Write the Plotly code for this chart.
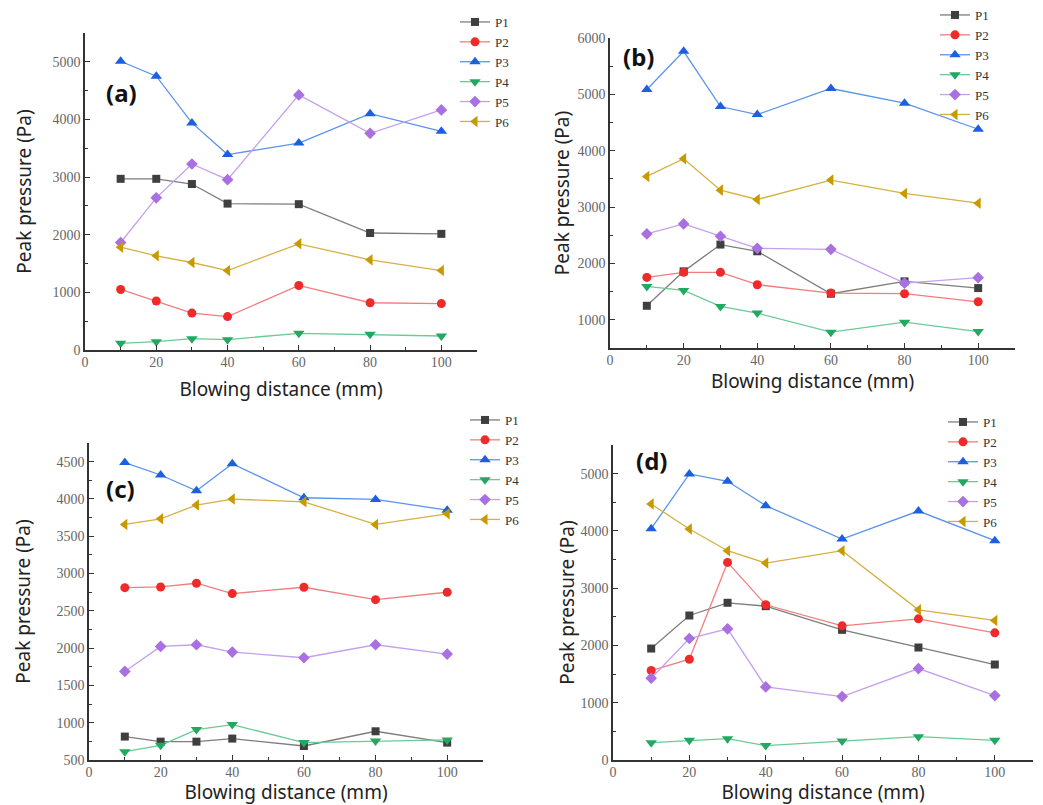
import plotly.graph_objects as go

# ---------------- data ----------------
distance = [10, 20, 30, 40, 60, 80, 100]
series_names = ["P1", "P2", "P3", "P4", "P5", "P6"]

a_P1 = [2970, 2970, 2880, 2540, 2530, 2030, 2015]
a_P2 = [1050, 850, 640, 580, 1120, 820, 805]
a_P3 = [5010, 4750, 3940, 3390, 3590, 4100, 3795]
a_P4 = [115, 145, 197, 180, 290, 272, 243]
a_P5 = [1865, 2640, 3227, 2955, 4426, 3760, 4166]
a_P6 = [1784, 1634, 1518, 1379, 1842, 1564, 1379]

b_P1 = [1249, 1860, 2335, 2216, 1463, 1682, 1563]
b_P2 = [1753, 1842, 1842, 1623, 1474, 1463, 1320]
b_P3 = [5087, 5763, 4784, 4642, 5104, 4843, 4381]
b_P4 = [1593, 1522, 1237, 1119, 781, 958, 792]
b_P5 = [2524, 2702, 2483, 2269, 2251, 1652, 1747]
b_P6 = [3544, 3859, 3301, 3135, 3479, 3242, 3070]

c_P1 = [814, 746, 746, 787, 688, 885, 733]
c_P2 = [2811, 2820, 2870, 2731, 2816, 2650, 2749]
c_P3 = [4487, 4321, 4110, 4473, 4016, 3994, 3850]
c_P4 = [612, 697, 908, 975, 733, 755, 769]
c_P5 = [1687, 2023, 2045, 1947, 1871, 2045, 1920]
c_P6 = [3658, 3734, 3918, 3998, 3962, 3658, 3801]

d_P1 = [1946, 2523, 2745, 2686, 2273, 1964, 1667]
d_P2 = [1562, 1760, 3450, 2710, 2343, 2465, 2220]
d_P3 = [4038, 4994, 4866, 4441, 3858, 4347, 3829]
d_P4 = [303, 344, 373, 251, 332, 408, 344]
d_P5 = [1428, 2121, 2290, 1276, 1107, 1597, 1125]
d_P6 = [4470, 4033, 3654, 3438, 3654, 2622, 2436]

panel_labels = ["(a)", "(b)", "(c)", "(d)"]
x_title = "Blowing distance (mm)"
y_title = "Peak pressure (Pa)"

# ---------------- styles ----------------
marker_colors = ["#3f3f3f", "#ee2a2a", "#1c5fe0", "#23a862", "#a870e0", "#c99a00"]
line_colors = ["#7d7d7d", "#f27d7d", "#5b93ec", "#6acb95", "#c5a0ef", "#d6b040"]
symbols = ["square", "circle", "triangle-up", "triangle-down", "diamond", "triangle-left"]
marker_sizes = [8, 9, 10, 10, 9, 10]

W, H = 1043, 805

def px_dom_x(x0, x1):
    return [x0 / W, x1 / W]

def px_dom_y(top, bottom):
    return [1 - bottom / H, 1 - top / H]

panels = [
    dict(data=[a_P1, a_P2, a_P3, a_P4, a_P5, a_P6], xd=(85, 477), yd=(33, 350),
         yr=[0, 5500], ydt=1000, legend=(455, 7), label=(121, 92), xstand=14, ystand=16),
    dict(data=[b_P1, b_P2, b_P3, b_P4, b_P5, b_P6], xd=(610, 1015), yd=(38, 348),
         yr=[500, 6000], ydt=1000, legend=(935, 0), label=(638, 57), xstand=7, ystand=3),
    dict(data=[c_P1, c_P2, c_P3, c_P4, c_P5, c_P6], xd=(89, 483), yd=(443, 760),
         yr=[500, 4750], ydt=500, legend=(465, 405), label=(120, 488), xstand=4, ystand=21),
    dict(data=[d_P1, d_P2, d_P3, d_P4, d_P5, d_P6], xd=(613, 1033), yd=(445, 760),
         yr=[0, 5500], ydt=1000, legend=(943, 407), label=(651, 460), xstand=4, ystand=0),
]

fig = go.Figure()
layout = dict(
    width=W, height=H, margin=dict(l=0, r=0, t=0, b=0, autoexpand=False),
    paper_bgcolor="white", plot_bgcolor="white",
    annotations=[],
)

tick_font = dict(family="Liberation Serif", size=14, color="#666666")
title_font = dict(family="Noto Sans", size=19, color="#222222")

for i, p in enumerate(panels):
    k = "" if i == 0 else str(i + 1)
    xa, ya = "x" + k, "y" + k
    leg = "legend" + k
    for j, name in enumerate(series_names):
        fig.add_trace(go.Scatter(
            x=distance, y=p["data"][j], name=name, mode="lines+markers",
            xaxis=xa, yaxis=ya, legend=leg,
            line=dict(color=line_colors[j], width=1.3),
            marker=dict(symbol=symbols[j], color=marker_colors[j], size=marker_sizes[j]),
            cliponaxis=False,
        ))
    common = dict(showline=True, linecolor="#333333", linewidth=1.5, showgrid=False,
                  zeroline=False, ticks="inside", ticklen=5, tickwidth=1.2,
                  tickcolor="#333333", tickfont=tick_font,
                  minor=dict(ticks="inside", ticklen=3, tickwidth=1.2, tickcolor="#333333"))
    layout["xaxis" + k] = dict(common, domain=px_dom_x(*p["xd"]), range=[0, 110],
                               dtick=20, tick0=0, anchor=ya, ticklabelstandoff=-2,
                               title=dict(text=x_title, font=title_font, standoff=p["xstand"]),
                               minor=dict(common["minor"], dtick=10))
    layout["yaxis" + k] = dict(common, domain=px_dom_y(*p["yd"]), range=p["yr"],
                               dtick=p["ydt"], tick0=0, anchor=xa,
                               title=dict(text=y_title, font=title_font, standoff=p["ystand"]),
                               minor=dict(common["minor"], dtick=p["ydt"] / 2))
    lx, ly = p["legend"]
    layout[leg] = dict(x=lx / W, y=1 - ly / H, xanchor="left", yanchor="top",
                       bgcolor="rgba(0,0,0,0)", borderwidth=0,
                       font=dict(family="Liberation Serif", size=13, color="#333333"),
                       itemwidth=30, tracegroupgap=0)
    cx, cy = p["label"]
    layout["annotations"].append(dict(
        text=panel_labels[i], x=cx / W, y=1 - cy / H, xref="paper", yref="paper",
        xanchor="center", yanchor="middle", showarrow=False,
        font=dict(family="Noto Sans", size=24, color="#111111", weight="bold")))

fig.update_layout(**layout)
fig.write_html("out.html")
